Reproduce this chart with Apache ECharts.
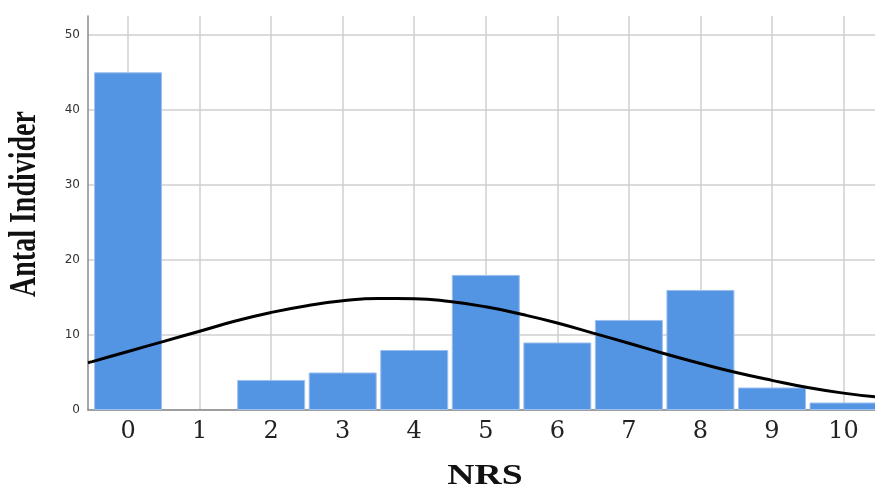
<!DOCTYPE html>
<html>
<head>
<meta charset="utf-8">
<script src="https://cdn.jsdelivr.net/npm/echarts@6/dist/echarts.min.js"></script>
<style>html,body{margin:0;padding:0;background:#fff;}#c{width:875px;height:488px;}</style>
</head>
<body>
<div id="c"></div>
<script>
// NRS score categories and counts (histogram)
const categories = [0, 1, 2, 3, 4, 5, 6, 7, 8, 9, 10];
const counts = [45, 0, 4, 5, 8, 18, 9, 12, 16, 3, 1];
// fitted normal curve
const curveX = [-0.56, -0.5, 0, 0.5, 1, 1.5, 2, 2.5, 3, 3.5, 4, 4.5, 5, 5.5, 6, 6.5, 7, 7.5, 8, 8.5, 9, 9.5, 10, 10.44];
const curveY = [6.3, 6.45, 7.8, 9.15, 10.5, 11.85, 13.0, 13.9, 14.55, 14.87, 14.84, 14.45, 13.75, 12.75, 11.6, 10.25, 8.9, 7.5, 6.2, 5.0, 3.95, 3.0, 2.25, 1.75];
const yTicks = [0, 10, 20, 30, 40, 50];
const xTitle = 'NRS';
const yTitle = 'Antal Individer';

const chart = echarts.init(document.getElementById('c'));
const gridCol = '#cfcfcf';
chart.setOption({
  animation: false,
  grid: {left: 88, right: 0, top: 16, bottom: 78, containLabel: false},
  xAxis: {
    type: 'value', min: -0.56, max: 10.44,
    axisLine: {show: true, onZero: false, lineStyle: {color: '#8a8a8a', width: 1.5}},
    axisTick: {show: false, customValues: categories},
    axisLabel: {customValues: categories, margin: 10, color: '#222', fontFamily: 'DejaVu Serif', fontSize: 24},
    splitLine: {show: true, lineStyle: {color: gridCol, width: 1.5}}
  },
  yAxis: {
    type: 'value', min: 0, max: 52.5,
    axisLine: {show: true, onZero: false, lineStyle: {color: '#8a8a8a', width: 1.5}},
    axisTick: {show: false, customValues: yTicks},
    axisLabel: {customValues: yTicks, margin: 8, color: '#333', fontFamily: 'DejaVu Sans', fontSize: 12},
    splitLine: {show: true, lineStyle: {color: gridCol, width: 1.5}}
  },
  series: [
    {
      type: 'bar',
      data: categories.map((c, i) => ({
        value: [c, counts[i]],
        itemStyle: counts[i] === 0 ? {borderWidth: 0, opacity: 0} : undefined
      })),
      barWidth: 68,
      itemStyle: {color: '#5394E3', borderColor: '#9DC1F0', borderWidth: 1},
      z: 2
    },
    {
      type: 'line',
      data: curveX.map((x, i) => [x, curveY[i]]),
      smooth: true,
      showSymbol: false,
      lineStyle: {color: '#000', width: 3},
      z: 3
    }
  ],
  graphic: [
    {
      type: 'text', x: 485, y: 477, scaleX: 1.3,
      style: {text: xTitle, font: 'bold 29px "Liberation Serif"', fill: '#111', align: 'center', verticalAlign: 'middle'}
    },
    {
      type: 'text', x: 25, y: 204, rotation: Math.PI / 2, scaleY: 1.35,
      style: {text: yTitle, font: 'bold 28px "Liberation Serif"', fill: '#111', align: 'center', verticalAlign: 'middle'}
    }
  ]
});
</script>
</body>
</html>
